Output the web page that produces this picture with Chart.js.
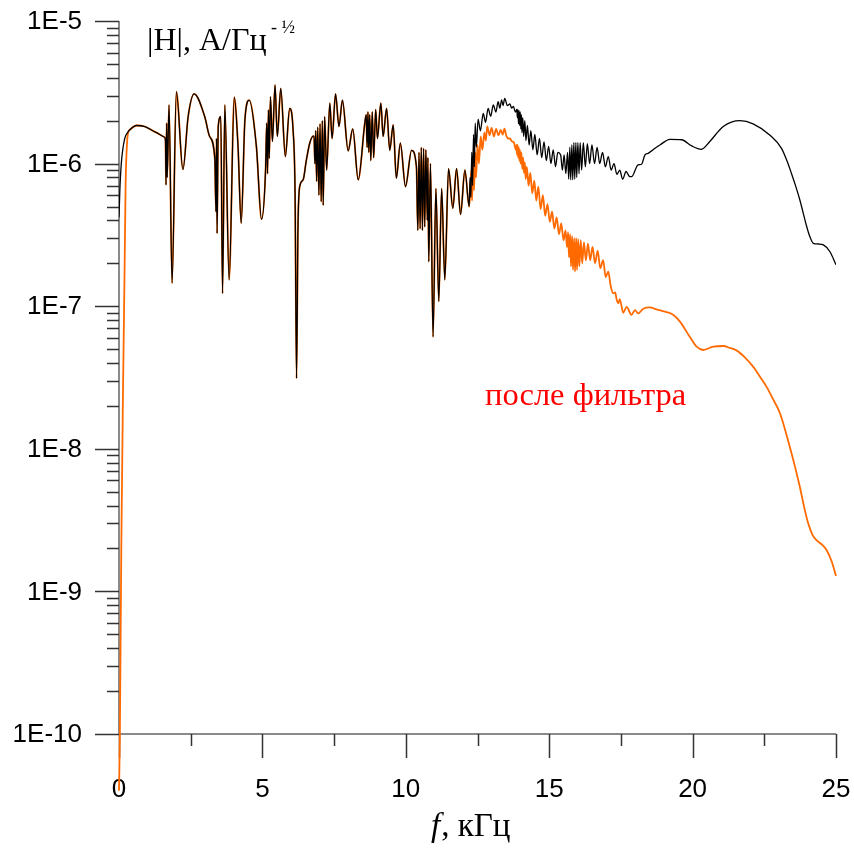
<!DOCTYPE html>
<html>
<head>
<meta charset="utf-8">
<script src="https://cdn.jsdelivr.net/npm/chart.js@4"></script>
<style>
  html, body { margin: 0; padding: 0; background: #fff; }
  canvas { display: block; }
</style>
</head>
<body>
<canvas id="spectrum" width="854" height="849"></canvas>
<script>
// |H(f)| spectrum, frequency in kHz, magnitude in A/Hz^-1/2

// both curves coincide over this band
const sharedBand = [
  [0.37,1.72e-6],[0.61,1.85e-6],[0.9,1.82e-6],[1.25,1.67e-6],[1.59,1.53e-6],
  [1.62,1.45e-6],[1.64,7.1e-7],[1.66,1.92e-6],[1.68,8.0e-7],[1.745,2.58e-6],[1.85,1.45e-7],
  [2.0,3.19e-6],[2.23,9.1e-7],[2.41,2.13e-6],[2.62,3.08e-6],[2.99,2.13e-6],[3.16,1.55e-6],[3.34,1.09e-6],
  [3.38,4.6e-7],[3.40,1.5e-6],[3.42,3.24e-7],[3.46,1.82e-6],[3.55,2.13e-6],[3.61,1.23e-7],[3.69,2.58e-6],
  [3.84,1.53e-7],[4.02,2.92e-6],[4.15,1.32e-6],[4.26,3.81e-7],[4.39,2.02e-6],[4.54,2.79e-6],[4.79,1.32e-6],[4.97,4.07e-7],
  [5.11,9.0e-7],[5.15,1.92e-6],[5.18,8.5e-7],[5.21,2.38e-6],[5.24,1.09e-6],[5.28,2.94e-6],[5.35,1.43e-6],
  [5.44,3.56e-6],[5.52,1.55e-6],[5.64,3.37e-6],[5.80,1.12e-6],[5.95,2.44e-6],[6.07,1.72e-6],[6.14,6.0e-7],
  [6.19,3.12e-8],[6.24,3.5e-7],[6.30,6.9e-7],[6.42,7.7e-7],[6.53,1.05e-6],[6.65,1.39e-6],[6.77,1.56e-6],
  [6.80,1.56e-6],[6.83,1.0e-6],[6.86,1.7e-6],[6.89,7.5e-7],[6.93,1.8e-6],[6.97,6.0e-7],[7.01,1.9e-6],
  [7.05,5.4e-7],[7.09,2.0e-6],[7.12,5.1e-7],[7.17,2.13e-6],[7.24,9.0e-7],[7.35,2.65e-6],[7.43,1.5e-6],
  [7.55,3.08e-6],[7.67,1.82e-6],[7.79,2.79e-6],[7.99,1.23e-6],[8.15,1.75e-6],[8.34,7.7e-7],[8.57,1.92e-6],
  [8.62,2.2e-6],[8.65,1.3e-6],[8.68,2.3e-6],[8.71,1.2e-6],[8.74,2.2e-6],[8.78,1.05e-6],[8.83,2.3e-6],
  [8.88,1.1e-6],[8.95,2.4e-6],[9.01,1.5e-6],[9.13,2.65e-6],[9.21,1.55e-6],[9.33,2.44e-6],[9.44,1.24e-6],
  [9.56,1.87e-6],[9.67,7.9e-7],[9.81,1.39e-6],[9.99,6.9e-7],[10.2,1.24e-6],[10.37,9.5e-7],
  [10.42,3.4e-7],[10.46,1.2e-6],[10.50,3.5e-7],[10.54,1.3e-6],[10.58,3.4e-7],[10.62,1.28e-6],[10.66,3.6e-7],
  [10.70,1.25e-6],[10.75,4.0e-7],[10.77,1.1e-6],[10.80,2.05e-7],[10.86,1.0e-6],[10.95,6.1e-8],[11.05,6.7e-7],
  [11.15,1.08e-7],[11.25,6.7e-7],[11.36,1.53e-7],[11.49,9.2e-7],[11.64,4.86e-7],[11.77,9.2e-7],[11.91,4.4e-7],
  [12.06,9.0e-7],[12.21,5.0e-7]
];

// unfiltered signal
const blackStart = [[0,4.2e-7],[0.03,6.5e-7],[0.08,1.0e-6],[0.2,1.5e-6],[0.3,1.65e-6]];
const blackHigh = [
  [12.24,8.0e-7],[12.27,5.8e-7],[12.30,1.2e-6],[12.33,7.0e-7],[12.36,1.6e-6],[12.39,9.5e-7],[12.42,1.92e-6],
  [12.46,1.3e-6],[12.52,2.05e-6],[12.6,1.7e-6],[12.7,2.25e-6],[12.78,1.95e-6],[12.87,2.44e-6],[12.96,2.15e-6],
  [13.05,2.58e-6],[13.14,2.3e-6],[13.22,2.72e-6],[13.28,2.45e-6],[13.34,2.8e-6],[13.39,2.55e-6],[13.45,2.87e-6],
  [13.54,2.55e-6],[13.63,2.62e-6],[13.69,2.45e-6],[13.75,2.52e-6],[13.82,2.3e-6],[13.87,2.4e-6],
  [13.89,2.1e-6],[13.91,2.4e-6],[13.93,1.9e-6],[13.95,2.35e-6],[13.97,1.85e-6],[13.99,2.3e-6],[14.01,1.75e-6],
  [14.03,2.2e-6],[14.05,1.65e-6],[14.08,2.1e-6],[14.11,1.55e-6],[14.15,2.0e-6],[14.19,1.45e-6],[14.24,1.85e-6],
  [14.3,1.35e-6],[14.36,1.7e-6],[14.43,1.25e-6],
  [14.5,1.6e-6],[14.58,1.15e-6],[14.66,1.5e-6],[14.74,1.1e-6],[14.82,1.42e-6],[14.9,1.05e-6],[14.98,1.32e-6],
  [15.06,1.0e-6],[15.14,1.25e-6],[15.22,9.5e-7],[15.3,1.2e-6],[15.4,1.15e-6],[15.46,9.0e-7],[15.52,1.15e-6],
  [15.58,8.5e-7],[15.64,1.2e-6],[15.68,7.8e-7],[15.72,1.3e-6],[15.75,7.7e-7],[15.79,1.35e-6],[15.82,7.7e-7],
  [15.86,1.4e-6],[15.89,7.8e-7],[15.93,1.4e-6],[15.96,8.0e-7],[16.00,1.4e-6],[16.04,8.5e-7],[16.08,1.4e-6],
  [16.13,9.0e-7],[16.19,1.4e-6],[16.26,9.5e-7],[16.33,1.38e-6],[16.41,1.0e-6],[16.49,1.35e-6],[16.58,1.0e-6],
  [16.67,1.3e-6],[16.76,1.0e-6],[16.86,1.2e-6],[16.96,9.5e-7],[17.06,1.12e-6],[17.16,9.0e-7],[17.26,1.0e-6],
  [17.36,8.4e-7],[17.46,9.0e-7],[17.56,7.76e-7],[17.68,8.8e-7],[17.78,8.2e-7],[17.87,8.1e-7],[18.1,9.8e-7],
  [18.22,9.9e-7],[18.34,1.15e-6],[18.45,1.18e-6],[18.69,1.28e-6],[18.86,1.35e-6],[19.21,1.48e-6],[19.62,1.47e-6],
  [19.97,1.33e-6],[20.31,1.26e-6],[20.6,1.43e-6],[21.07,1.82e-6],[21.65,2.0e-6],[22.11,1.9e-6],[22.7,1.58e-6],
  [23.1,1.28e-6],[23.28,1.06e-6],[23.45,8.5e-7],[23.6,6.9e-7],[23.74,5.56e-7],[23.98,3.61e-7],[24.09,3.07e-7],
  [24.21,2.76e-7],[24.38,2.73e-7],[24.56,2.69e-7],[24.79,2.41e-7],[25.0,1.95e-7]
];

// after the filter
const orangeStart = [[0,4.0e-11],[0.03,1.0e-10],[0.08,2.0e-9],[0.14,2.6e-8],[0.19,1.5e-7],[0.23,7.0e-7],[0.28,1.4e-6],[0.33,1.68e-6]];
const orangeHigh = [
  [12.24,6.0e-7],[12.28,9.0e-7],[12.31,5.5e-7],[12.35,1.0e-6],[12.38,6.5e-7],[12.42,1.2e-6],[12.45,8.0e-7],
  [12.5,1.35e-6],[12.55,1.0e-6],[12.61,1.55e-6],[12.67,1.25e-6],[12.74,1.65e-6],[12.79,1.45e-6],[12.84,1.82e-6],
  [12.92,1.58e-6],[12.99,1.78e-6],[13.07,1.55e-6],[13.15,1.75e-6],[13.23,1.58e-6],[13.31,1.72e-6],[13.38,1.6e-6],
  [13.44,1.76e-6],[13.5,1.58e-6],[13.56,1.5e-6],[13.63,1.5e-6],[13.7,1.43e-6],[13.76,1.42e-6],[13.84,1.25e-6],
  [13.86,1.35e-6],[13.88,1.15e-6],[13.90,1.35e-6],[13.92,1.1e-6],[13.94,1.3e-6],[13.96,1.05e-6],[13.98,1.25e-6],
  [14.00,1.0e-6],[14.03,1.2e-6],[14.06,9.2e-7],[14.09,1.1e-6],[14.12,8.6e-7],[14.15,1.02e-6],[14.18,7.8e-7],
  [14.22,9.5e-7],[14.28,7.0e-7],[14.34,8.6e-7],[14.41,6.2e-7],
  [14.48,7.6e-7],[14.55,5.5e-7],[14.62,6.9e-7],[14.7,4.8e-7],[14.78,6.0e-7],[14.86,4.3e-7],[14.94,5.2e-7],
  [15.02,3.9e-7],[15.1,4.6e-7],[15.18,3.5e-7],[15.26,4.2e-7],[15.34,3.2e-7],[15.42,3.8e-7],[15.5,2.9e-7],
  [15.57,3.4e-7],[15.62,2.6e-7],[15.66,3.3e-7],[15.69,2.2e-7],[15.73,3.2e-7],[15.76,1.9e-7],[15.80,3.1e-7],
  [15.83,1.8e-7],[15.87,3.0e-7],[15.90,1.75e-7],[15.94,3.0e-7],[15.97,1.8e-7],[16.01,2.95e-7],[16.05,1.9e-7],
  [16.10,2.9e-7],[16.15,2.0e-7],[16.21,2.8e-7],[16.28,2.1e-7],[16.35,2.75e-7],[16.43,2.1e-7],[16.51,2.6e-7],
  [16.6,2.0e-7],[16.69,2.45e-7],[16.78,1.85e-7],[16.88,2.1e-7],[16.97,1.6e-7],[17.06,1.75e-7],[17.14,1.4e-7],
  [17.23,1.23e-7],[17.3,1.25e-7],[17.35,1.12e-7],[17.41,1.05e-7],[17.46,1.12e-7],[17.58,9.0e-8],[17.7,9.9e-8],
  [17.87,8.7e-8],[17.99,9.4e-8],[18.1,8.9e-8],[18.28,9.6e-8],[18.51,9.8e-8],[18.74,9.5e-8],[19.09,9.1e-8],
  [19.32,8.7e-8],[19.56,7.8e-8],[19.9,6.1e-8],[20.14,5.2e-8],[20.37,4.93e-8],[20.72,5.2e-8],[21.07,5.26e-8],
  [21.3,5.1e-8],[21.53,4.9e-8],[21.82,4.38e-8],[22.11,3.77e-8],[22.35,3.2e-8],[22.58,2.72e-8],[22.81,2.22e-8],
  [23.05,1.77e-8],[23.39,1.03e-8],[23.57,7.5e-9],[23.74,5.4e-9],[23.89,3.9e-9],[24.03,3.0e-9],[24.18,2.49e-9],
  [24.32,2.29e-9],[24.53,2.11e-9],[24.67,1.95e-9],[24.85,1.62e-9],[25.0,1.28e-9]
];

// axes
const xMajorTicks = [0, 5, 10, 15, 20, 25];
const xTickLabels = ['0', '5', '10', '15', '20', '25'];
const xMinorTicks = [2.5, 7.5, 12.5, 17.5, 22.5];
const yMajorTicks = [1e-10, 1e-9, 1e-8, 1e-7, 1e-6, 1e-5];
const yTickLabels = ['1E-10', '1E-9', '1E-8', '1E-7', '1E-6', '1E-5'];
const yMinorSteps = [2, 3, 4, 5, 6, 7, 8, 9];

function toPoints(rows) {
  return rows.map(([f, h]) => ({ x: f, y: h }));
}

const SERIF = '"Liberation Serif", "Times New Roman", serif';

const frame = {
  id: 'frame',
  beforeDatasetsDraw(chart) {
    const { ctx, chartArea: a, scales: { x, y } } = chart;
    ctx.save();

    // axis lines
    ctx.strokeStyle = '#8a8a8a';
    ctx.lineWidth = 2;
    ctx.beginPath();
    ctx.moveTo(a.left, a.top);
    ctx.lineTo(a.left, a.bottom);
    ctx.moveTo(a.left, a.bottom);
    ctx.lineTo(a.right, a.bottom);
    ctx.stroke();

    // ticks
    ctx.strokeStyle = '#333';
    ctx.lineWidth = 1.5;
    ctx.beginPath();
    xMajorTicks.forEach(v => {
      const px = Math.round(x.getPixelForValue(v)) + 0.5;
      ctx.moveTo(px, a.bottom); ctx.lineTo(px, a.bottom + 24);
    });
    xMinorTicks.forEach(v => {
      const px = Math.round(x.getPixelForValue(v)) + 0.5;
      ctx.moveTo(px, a.bottom); ctx.lineTo(px, a.bottom + 12);
    });
    yMajorTicks.forEach(v => {
      const py = Math.round(y.getPixelForValue(v)) + 0.5;
      ctx.moveTo(a.left - 24, py); ctx.lineTo(a.left, py);
    });
    yMajorTicks.slice(0, -1).forEach(d => {
      yMinorSteps.forEach(m => {
        const py = Math.round(y.getPixelForValue(m * d)) + 0.5;
        ctx.moveTo(a.left - 12, py); ctx.lineTo(a.left, py);
      });
    });
    ctx.stroke();

    // tick labels
    ctx.fillStyle = '#000';
    ctx.font = '26px "Liberation Sans", Arial, sans-serif';
    ctx.textAlign = 'center';
    ctx.textBaseline = 'alphabetic';
    xMajorTicks.forEach((v, i) => {
      ctx.fillText(xTickLabels[i], x.getPixelForValue(v), a.bottom + 63);
    });
    ctx.textAlign = 'right';
    ctx.textBaseline = 'middle';
    yMajorTicks.forEach((v, i) => {
      ctx.fillText(yTickLabels[i], 82, y.getPixelForValue(v) + 1);
    });

    // titles
    ctx.textAlign = 'left';
    ctx.textBaseline = 'alphabetic';
    ctx.font = '32px ' + SERIF;
    ctx.fillText('|H|, А/Гц', 147, 50);
    ctx.font = '18px ' + SERIF;
    ctx.fillText('- ½', 271, 33);

    ctx.font = 'italic 33px ' + SERIF;
    ctx.fillText('f', 431, 836);
    const fw = ctx.measureText('f').width;
    ctx.font = '33px ' + SERIF;
    ctx.fillText(', кГц', 431 + fw + 1, 836);

    ctx.fillStyle = '#ff0000';
    ctx.font = '32.5px ' + SERIF;
    ctx.fillText('после фильтра', 485, 405);

    ctx.restore();
  }
};

new Chart(document.getElementById('spectrum'), {
  type: 'line',
  data: {
    datasets: [
      {
        label: 'до фильтра',
        data: toPoints(blackStart.concat(sharedBand, blackHigh)),
        borderColor: '#000000',
        borderWidth: 1.3,
        pointRadius: 0,
        cubicInterpolationMode: 'monotone'
      },
      {
        label: 'после фильтра',
        data: toPoints(orangeStart.concat(sharedBand, orangeHigh)),
        borderColor: '#ff6a00',
        borderWidth: 1.8,
        pointRadius: 0,
        cubicInterpolationMode: 'monotone',
        clip: false
      }
    ]
  },
  options: {
    responsive: false,
    animation: false,
    layout: { padding: { left: 119, top: 21, right: 18, bottom: 115 } },
    scales: {
      x: { type: 'linear', min: 0, max: 25, display: false },
      y: { type: 'logarithmic', min: 1e-10, max: 1e-5, display: false }
    },
    plugins: {
      legend: { display: false },
      tooltip: { enabled: false }
    }
  },
  plugins: [frame]
});
</script>
</body>
</html>
